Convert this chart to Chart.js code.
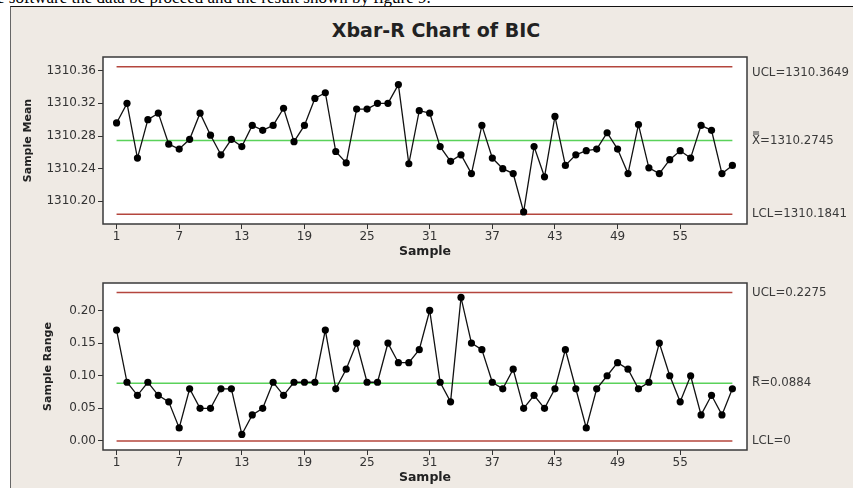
<!DOCTYPE html>
<html>
<head>
<meta charset="utf-8">
<script src="https://cdn.jsdelivr.net/npm/chart.js@4.4.1/dist/chart.umd.min.js"></script>
<style>
  body { margin: 0; width: 853px; height: 488px; overflow: hidden; background: #fff; position: relative; font-family: "DejaVu Sans", sans-serif; }
  #cut { position: absolute; left: 0; top: 0; width: 853px; height: 6px; overflow: hidden; }
  #cut span { position: absolute; left: -3px; top: -12px; font: 17px "Liberation Serif", serif; white-space: nowrap; color: #000; }
  #frame { position: absolute; left: 10px; top: 6px; right: 0; bottom: 0; background: #efeae4; border-top: 1px solid #111; border-left: 1px solid #666; }
  #title { position: absolute; left: 236px; width: 400px; top: 19px; line-height: 22px; text-align: center; font: bold 19px "DejaVu Sans", sans-serif; color: #222; }
  canvas { position: absolute; left: 10px; }
  #meanChart { top: 40px; }
  #rangeChart { top: 266px; }
</style>
</head>
<body>
<div id="cut"><span>e software the data be proceed and the result shown by figure 9.</span></div>
<div id="frame"></div>
<div id="title">Xbar-R Chart of BIC</div>
<canvas id="meanChart" width="843" height="224"></canvas>
<canvas id="rangeChart" width="843" height="224"></canvas>
<script>
// sample numbers (x axis)
const samples = [1, 2, 3, 4, 5, 6, 7, 8, 9, 10, 11, 12, 13, 14, 15, 16, 17, 18, 19, 20,
  21, 22, 23, 24, 25, 26, 27, 28, 29, 30, 31, 32, 33, 34, 35, 36, 37, 38, 39, 40,
  41, 42, 43, 44, 45, 46, 47, 48, 49, 50, 51, 52, 53, 54, 55, 56, 57, 58, 59, 60];
const xTicks = [1, 7, 13, 19, 25, 31, 37, 43, 49, 55];

// Xbar chart
const meanValues = [1310.296, 1310.320, 1310.253, 1310.300, 1310.308, 1310.270, 1310.264, 1310.276, 1310.308, 1310.281,
  1310.257, 1310.276, 1310.267, 1310.293, 1310.287, 1310.293, 1310.314, 1310.273, 1310.293, 1310.326,
  1310.333, 1310.261, 1310.247, 1310.313, 1310.313, 1310.320, 1310.320, 1310.343, 1310.246, 1310.311,
  1310.308, 1310.267, 1310.249, 1310.257, 1310.234, 1310.293, 1310.253, 1310.240, 1310.234, 1310.187,
  1310.267, 1310.230, 1310.304, 1310.244, 1310.257, 1310.262, 1310.264, 1310.284, 1310.264, 1310.234,
  1310.294, 1310.241, 1310.234, 1310.251, 1310.262, 1310.253, 1310.293, 1310.287, 1310.234, 1310.244];
const meanTicks = [1310.20, 1310.24, 1310.28, 1310.32, 1310.36];
const meanLimits = [1310.3649, 1310.2745, 1310.1841]; // UCL, center, LCL

// R chart
const rangeValues = [0.17, 0.09, 0.07, 0.09, 0.07, 0.06, 0.02, 0.08, 0.05, 0.05,
  0.08, 0.08, 0.01, 0.04, 0.05, 0.09, 0.07, 0.09, 0.09, 0.09,
  0.17, 0.08, 0.11, 0.15, 0.09, 0.09, 0.15, 0.12, 0.12, 0.14,
  0.20, 0.09, 0.06, 0.22, 0.15, 0.14, 0.09, 0.08, 0.11, 0.05,
  0.07, 0.05, 0.08, 0.14, 0.08, 0.02, 0.08, 0.10, 0.12, 0.11,
  0.08, 0.09, 0.15, 0.10, 0.06, 0.10, 0.04, 0.07, 0.04, 0.08];
const rangeTicks = [0.00, 0.05, 0.10, 0.15, 0.20];
const rangeLimits = [0.2275, 0.0884, 0];

const RED = '#b4463d';
const GREEN = '#5ad25a';
const INK = '#333';

// white plot area, box round it, limit labels on the right
const boxPlugin = {
  id: 'box',
  beforeDraw(chart) {
    const a = chart.chartArea, ctx = chart.ctx;
    ctx.save();
    ctx.fillStyle = '#fff';
    ctx.fillRect(a.left, a.top, a.right - a.left, a.bottom - a.top);
    ctx.restore();
  },
  afterDraw(chart, args, opts) {
    const a = chart.chartArea, ctx = chart.ctx, y = chart.scales.y;
    ctx.save();
    ctx.strokeStyle = '#3a3a3a';
    ctx.lineWidth = 1.5;
    ctx.strokeRect(a.left, a.top, a.right - a.left, a.bottom - a.top);
    ctx.font = '11.8px "DejaVu Sans"';
    ctx.fillStyle = '#3a3a3a';
    ctx.textBaseline = 'middle';
    opts.labels.forEach((lab, i) => {
      let py = y.getPixelForValue(opts.limits[i]);
      if (i === 0) py += opts.nudge;
      let px = a.right + 5;
      if (lab.bars) {
        ctx.fillText(lab.sym, px, py);
        const w = ctx.measureText(lab.sym).width;
        ctx.fillRect(px + 1, py - 7, w - 2, 1);
        if (lab.bars > 1) ctx.fillRect(px + 1, py - 9, w - 2, 1);
        px += w;
      }
      ctx.fillText(lab.text, px, py);
    });
    ctx.restore();
  }
};

function limitLine(value, color) {
  return {
    data: [{ x: samples[0], y: value }, { x: samples[samples.length - 1], y: value }],
    borderColor: color, borderWidth: 1.5, pointRadius: 0, order: 2
  };
}

function makeChart(id, values, ticks, limits, labels, yTitle, yMin, yMax, titlePad, nudge) {
  new Chart(document.getElementById(id), {
    type: 'line',
    data: {
      datasets: [
        {
          data: values.map((v, i) => ({ x: samples[i], y: v })),
          borderColor: '#111', borderWidth: 1.3, tension: 0,
          pointRadius: 3.6, pointBackgroundColor: '#000', pointBorderColor: '#000', pointBorderWidth: 0,
          order: 1
        },
        limitLine(limits[0], RED),
        limitLine(limits[1], GREEN),
        limitLine(limits[2], RED)
      ]
    },
    options: {
      responsive: false,
      animation: false,
      devicePixelRatio: 1,
      layout: { padding: { top: 17, right: 106, bottom: 0, left: 0 } },
      plugins: {
        legend: { display: false },
        tooltip: { enabled: false },
        box: { limits: limits, labels: labels, nudge: nudge }
      },
      scales: {
        x: {
          type: 'linear', min: -0.3, max: 61.4,
          afterBuildTicks: axis => { axis.ticks = xTicks.map(v => ({ value: v })); },
          afterFit: axis => { axis.height = 40; },
          ticks: { color: INK, font: { size: 12, family: 'DejaVu Sans' }, padding: 1, maxRotation: 0, autoSkip: false },
          grid: { drawOnChartArea: false, drawTicks: true, tickLength: 5, color: INK },
          border: { display: false },
          title: { display: true, text: 'Sample', color: '#222', font: { size: 12.5, weight: 'bold', family: 'DejaVu Sans' }, padding: { top: 0, bottom: 5 } }
        },
        y: {
          min: yMin, max: yMax,
          afterBuildTicks: axis => { axis.ticks = ticks.map(v => ({ value: v })); },
          afterFit: axis => { axis.width = 93; },
          ticks: { color: INK, font: { size: 12, family: 'DejaVu Sans' }, padding: 2, callback: v => v.toFixed(2) },
          grid: { drawOnChartArea: false, drawTicks: true, tickLength: 5, color: INK },
          border: { display: false },
          title: { display: true, text: yTitle, color: '#222', font: { size: 11, weight: 'bold', family: 'DejaVu Sans' }, padding: { top: titlePad, bottom: 0 } }
        }
      }
    },
    plugins: [boxPlugin]
  });
}

makeChart('meanChart', meanValues, meanTicks, meanLimits,
  [{ text: 'UCL=1310.3649' }, { sym: 'X', bars: 2, text: '=1310.2745' }, { text: 'LCL=1310.1841' }],
  'Sample Mean', 1310.1722, 1310.3768, 12, 6);

makeChart('rangeChart', rangeValues, rangeTicks, rangeLimits,
  [{ text: 'UCL=0.2275' }, { sym: 'R', bars: 1, text: '=0.0884' }, { text: 'LCL=0' }],
  'Sample Range', -0.0138, 0.2421, 32, 0);
</script>
</body>
</html>
